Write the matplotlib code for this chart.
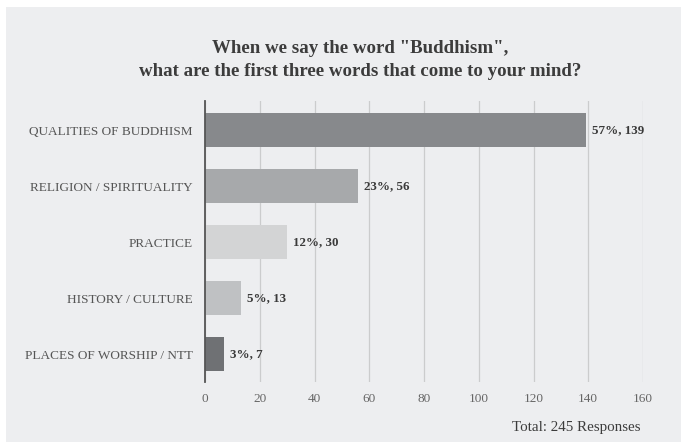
import matplotlib.pyplot as plt

# survey answers, top to bottom
categories = ['QUALITIES OF BUDDHISM', 'RELIGION / SPIRITUALITY', 'PRACTICE',
              'HISTORY / CULTURE', 'PLACES OF WORSHIP / NTT']
counts = [139, 56, 30, 13, 7]
percents = [57, 23, 12, 5, 3]
total = 245
xticks = [0, 20, 40, 60, 80, 100, 120, 140, 160]

bar_colors = ['#87898c', '#a7a9ab', '#d3d4d5', '#bfc1c3', '#6f7174']
bg = '#edeef0'

plt.rcParams['font.family'] = ['Liberation Serif', 'DejaVu Serif']

fig = plt.figure(figsize=(6.81, 4.45), dpi=100, facecolor='white')

# light grey panel behind the chart
panel = fig.add_axes([6 / 681, 3 / 445, 675 / 681, 435 / 445], zorder=-1)
panel.set_facecolor(bg)
panel.set_xticks([])
panel.set_yticks([])
for s in panel.spines.values():
    s.set_visible(False)

ax = fig.add_axes([205 / 681, 1 - 382 / 445, 438 / 681, 281 / 445])
ax.patch.set_alpha(0)

ypos = list(range(len(categories)))
ax.barh(ypos, counts, height=0.6, color=bar_colors, zorder=3)

for y, c, p in zip(ypos, counts, percents):
    ax.text(c + 2.2, y, f'{p}%, {c}', va='center', ha='left',
            fontsize=9.4, fontweight='bold', color='#3a3a3a', zorder=4)

ax.set_xlim(0, 160)
ax.set_ylim(4.5, -0.52)
ax.set_xticks(xticks)
ax.set_yticks(ypos)
ax.set_yticklabels(categories, fontsize=9.5, color='#555555')
ax.tick_params(axis='x', labelsize=9.5, labelcolor='#666666', length=0, pad=8)
ax.tick_params(axis='y', length=0, pad=9)

ax.grid(axis='x', color='#cbcccd', linewidth=0.9, zorder=1)
for side in ['top', 'right', 'bottom']:
    ax.spines[side].set_visible(False)
ax.spines['left'].set_color('#555555')
ax.spines['left'].set_linewidth(1.3)
ax.spines['left'].set_zorder(5)

fig.text(360 / 681, 1 - 60 / 445,
         'When we say the word "Buddhism",\nwhat are the first three words that come to your mind?',
         ha='center', va='center', fontsize=13.6, fontweight='bold',
         color='#3c3c3c', linespacing=1.45)

fig.text(641 / 681, 1 - 427 / 445, f'Total: {total} Responses',
         ha='right', va='center', fontsize=10.8, color='#3c3c3c')

fig.savefig('out.png', dpi=100, facecolor='white')
